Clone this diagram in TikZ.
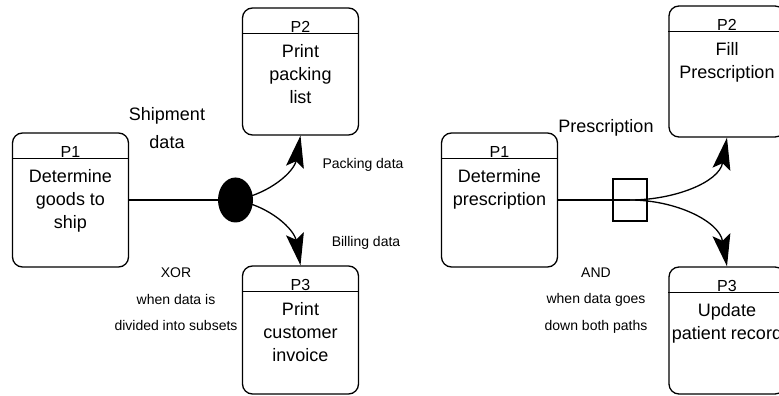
\documentclass[tikz,border=0pt]{standalone}
\usepackage{fontspec}
\setmainfont{Liberation Sans}
\usetikzlibrary{arrows.meta,shapes.geometric,positioning}

\tikzset{
  proc/.style={draw, rounded corners=10pt, minimum width=116pt, line width=1.3pt},
  ptitle/.style={font=\fontsize{16}{18}\selectfont, inner sep=0pt},
  pbody/.style={font=\fontsize{18}{23}\selectfont, align=center, inner sep=0pt},
  lbl/.style={font=\fontsize{14}{26.5}\selectfont, align=center, inner sep=0pt},
  biglbl/.style={font=\fontsize{18}{28}\selectfont, align=center, inner sep=0pt},
  flow/.style={line width=1.3pt, -{Stealth[length=32pt,width=18pt,inset=6pt]}}
}

\begin{document}
\begin{tikzpicture}[x=1pt,y=1pt]
\useasboundingbox (0,0) rectangle (779,396);
\clip (0,0) rectangle (779,396);

\node[proc, minimum height=134pt] (LP1) at (70.5,196) {};
\node[proc, minimum height=127pt] (LP2) at (300.5,324.5) {};
\node[proc, minimum height=128pt] (LP3) at (300.5,66) {};
\node[proc, minimum height=134pt] (RP1) at (499.5,196) {};
\node[proc, minimum height=131pt] (RP2) at (727,324.5) {};
\node[proc, minimum height=127pt] (RP3) at (727,65.5) {};

\foreach \n/\t in {LP1/P1,LP2/P2,LP3/P3,RP1/P1,RP2/P2,RP3/P3}
{
  \draw[line width=1.3pt] ([yshift=-26pt]\n.north west) -- ([yshift=-26pt]\n.north east);
  \node[ptitle, anchor=base] (T\n) at ([yshift=-25pt]\n.north) {\t};
}

\foreach \n/\t in {LP1/{Determine\\goods to\\ship},LP2/{Print\\packing\\list},LP3/{Print\\customer\\invoice},RP1/{Determine\\prescription},RP2/{Fill\\Prescription},RP3/{Update\\patient record}}
\node[pbody, anchor=north] (B\n) at ([yshift=-37pt]\n.north) {\t};

\node[ellipse, fill, minimum width=35pt, minimum height=45pt, inner sep=0pt] (XOR) at (235.5,196) {};
\node[draw, line width=1.2pt, minimum width=34pt, minimum height=42pt, inner sep=0pt] (AND) at (630,196) {};

\draw[line width=1.3pt] (LP1) -- (XOR);
\draw[line width=1.3pt] (RP1) -- (AND.center);

\foreach \from/\to/\o/\i in {XOR/LP2.south/10/-100,XOR/LP3.north/-10/100,AND/RP2.south/0/-100,AND/RP3.north/0/100}
\draw[flow] (\from.center) to[out=\o,in=\i] (\to);

\node[biglbl] (SHIP) at (167,268) {Shipment\\data};
\node[lbl] (PACK) at (363,231) {Packing data};
\node[lbl] (BILL) at (366,153) {Billing data};
\node[lbl] (XORT) at (176,96.5) {XOR\\when data is\\divided into subsets};
\node[biglbl] (PRES) at (606,268) {Prescription};
\node[lbl] (ANDT) at (596,95.5) {AND\\when data goes\\down both paths};
\end{tikzpicture}
\end{document}
